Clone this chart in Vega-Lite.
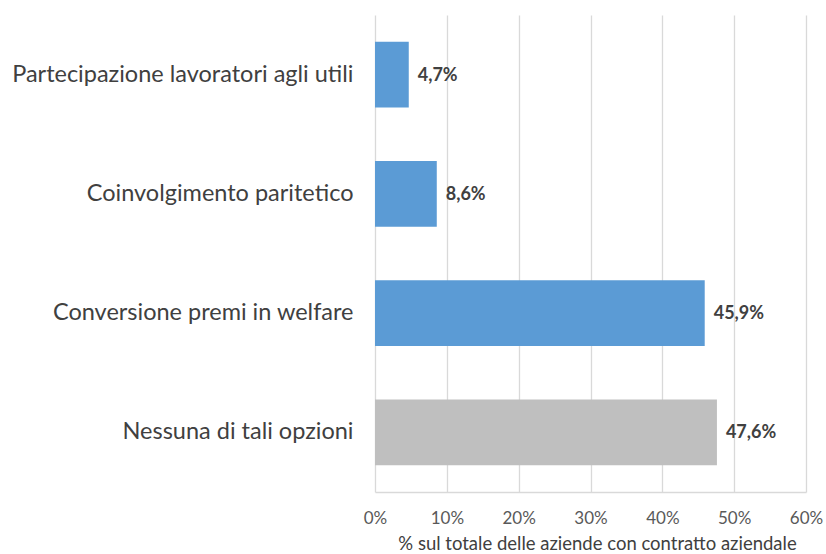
{
  "$schema": "https://vega.github.io/schema/vega-lite/v6.json",
  "autosize": {"type": "none"},
  "padding": {"left": 375, "top": 15, "right": 20, "bottom": 62},
  "width": 431,
  "height": 477,
  "background": "white",
  "data": {
    "values": [
      {"cat": "Partecipazione lavoratori agli utili", "value": 0.047, "label": "4,7%", "group": "si"},
      {"cat": "Coinvolgimento paritetico ", "value": 0.086, "label": "8,6%", "group": "si"},
      {"cat": "Conversione premi in welfare", "value": 0.459, "label": "45,9%", "group": "si"},
      {"cat": "Nessuna di tali opzioni", "value": 0.476, "label": "47,6%", "group": "no"}
    ]
  },
  "encoding": {
    "y": {
      "field": "cat", "type": "nominal", "sort": null,
      "scale": {"paddingInner": 0.45, "paddingOuter": 0.225},
      "axis": {
        "title": null, "ticks": false, "domain": false, "labelPadding": 22,
        "labelFont": "Lato", "labelFontSize": 23.5, "labelColor": "#404040", "labelLimit": 400
      }
    },
    "x": {
      "field": "value", "type": "quantitative",
      "scale": {"domain": [0, 0.6], "nice": false},
      "axis": {
        "format": ".0%", "values": [0, 0.1, 0.2, 0.3, 0.4, 0.5, 0.6],
        "title": "% sul totale delle aziende con contratto aziendale",
        "titleFont": "Lato", "titleFontSize": 18.5, "titleFontWeight": "normal", "titleColor": "#404040", "titlePadding": 8, "titleX": 222,
        "labelFont": "Lato", "labelFontSize": 17, "labelColor": "#595959", "labelPadding": 18,
        "ticks": false, "grid": true, "gridColor": "#d9d9d9", "gridWidth": 1.3,
        "domain": true, "domainColor": "#d9d9d9", "domainWidth": 1.3,
        "labelFlush": false
      }
    }
  },
  "layer": [
    {
      "mark": {"type": "bar"},
      "encoding": {
        "color": {
          "field": "group", "type": "nominal",
          "scale": {"domain": ["si", "no"], "range": ["#5B9BD5", "#BFBFBF"]},
          "legend": null
        }
      }
    },
    {
      "mark": {"type": "text", "align": "left", "dx": 9, "dy": 1, "font": "Lato", "fontSize": 18, "fontWeight": "bold", "color": "#404040"},
      "encoding": {"text": {"field": "label"}}
    }
  ],
  "config": {"view": {"stroke": null}}
}
